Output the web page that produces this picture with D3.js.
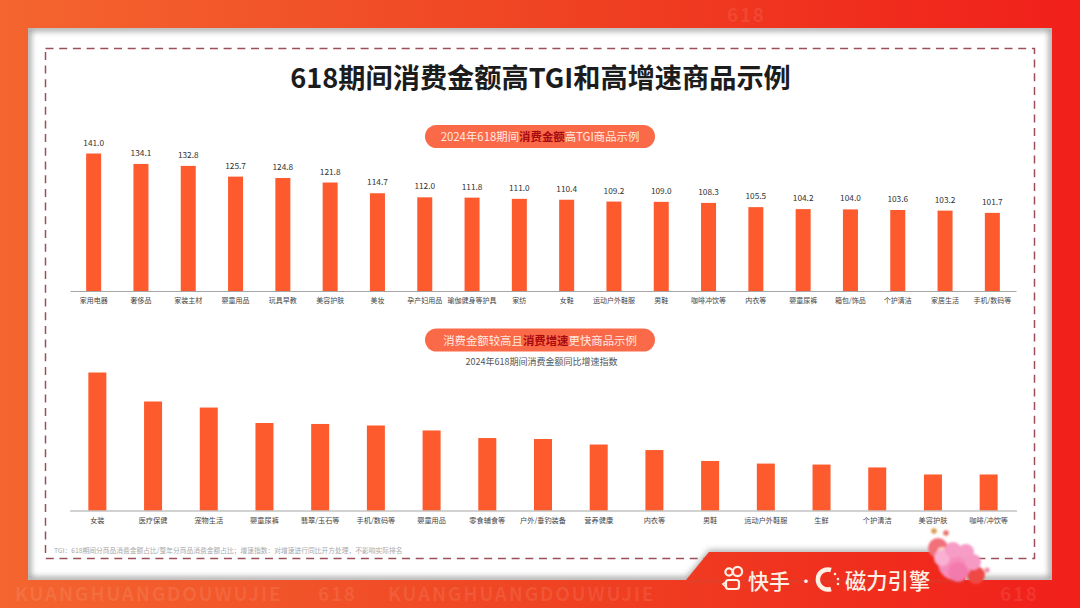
<!DOCTYPE html>
<html>
<head>
<meta charset="utf-8">
<script src="https://cdn.jsdelivr.net/npm/d3@7"></script>
<style>
  html, body { margin: 0; padding: 0; background: #fff; }
  svg { display: block; }
  text { font-family: "Noto Sans CJK SC", "Noto Sans", sans-serif; }
</style>
</head>
<body>
<svg id="chart" width="1080" height="608"></svg>
<script>
const tgiCategories = ["家用电器", "奢侈品", "家装主材", "婴童用品", "玩具早教", "美容护肤", "美妆", "孕产妇用品", "瑜伽健身等护具", "家纺",
  "女鞋", "运动户外鞋服", "男鞋", "咖啡冲饮等", "内衣等", "婴童尿裤", "箱包/饰品", "个护清洁", "家居生活", "手机/数码等"];
const tgiValues = [141.0, 134.1, 132.8, 125.7, 124.8, 121.8, 114.7, 112.0, 111.8, 111.0,
  110.4, 109.2, 109.0, 108.3, 105.5, 104.2, 104.0, 103.6, 103.2, 101.7];

const growthCategories = ["女装", "医疗保健", "宠物生活", "婴童尿裤", "翡翠/玉石等", "手机/数码等", "婴童用品", "零食辅食等", "户外/垂钓装备",
  "营养健康", "内衣等", "男鞋", "运动户外鞋服", "生鲜", "个护清洁", "美容护肤", "咖啡/冲饮等"];
// no labels in the source (tallest = 100)
const growthValues = [100, 79, 74.6, 63.4, 62.7, 61.6, 58, 52.5, 51.8, 47.8, 43.8, 35.9, 34, 33.3, 31.2, 26.1, 26.1];

const titleText = "618期间消费金额高TGI和高增速商品示例";
const subtitleText = "2024年618期间消费金额同比增速指数";
const footnoteText = "TGI：618期间分商品消费金额占比/整年分商品消费金额占比；增速指数：对增速进行同比开方处理，不影响实际排名";
const pillTop = ["2024年618期间", "消费金额", "高TGI商品示例"];
const pillBottom = ["消费金额较高且", "消费增速", "更快商品示例"];

const barColor = "#fd5a2e";
const svg = d3.select("#chart");
const defs = svg.append("defs");

const bgGrad = defs.append("linearGradient").attr("id", "bg")
  .attr("gradientUnits", "userSpaceOnUse")
  .attr("x1", 0).attr("y1", 0).attr("x2", 1080).attr("y2", 0);
bgGrad.append("stop").attr("offset", 0).attr("stop-color", "#f4652f");
bgGrad.append("stop").attr("offset", 0.5).attr("stop-color", "#ef4423");
bgGrad.append("stop").attr("offset", 1).attr("stop-color", "#f11f1a");

defs.append("filter").attr("id", "soft").attr("x", "-20%").attr("y", "-20%").attr("width", "140%").attr("height", "140%")
  .append("feGaussianBlur").attr("stdDeviation", 3);
defs.append("filter").attr("id", "soft1").attr("x", "-30%").attr("y", "-30%").attr("width", "160%").attr("height", "160%")
  .append("feGaussianBlur").attr("stdDeviation", 1.2);
defs.append("clipPath").attr("id", "panelClip")
  .append("rect").attr("x", 28).attr("y", 28).attr("width", 1024).attr("height", 552);

// background + watermark
svg.append("rect").attr("width", 1080).attr("height", 608).attr("fill", "url(#bg)");

const watermarks = [
  ["KUANGHUANGDOUWUJIE", 15, 601], ["618", 318, 601], ["KUANGHUANGDOUWUJIE", 388, 601], ["618", 1000, 601], ["618", 727, 22]
];
svg.append("g").selectAll("text").data(watermarks).enter().append("text")
  .text(d => d[0])
  .attr("x", d => d[1]).attr("y", d => d[2])
  .attr("font-size", 19).attr("font-weight", 700).attr("letter-spacing", 1.7)
  .attr("fill", "#fff").attr("fill-opacity", 0.09);

// white panel with soft inner edge
svg.append("rect").attr("x", 28).attr("y", 28).attr("width", 1024).attr("height", 552).attr("fill", "#fff");
svg.append("g").attr("clip-path", "url(#panelClip)")
  .append("rect").attr("x", 28).attr("y", 28).attr("width", 1024).attr("height", 552)
  .attr("fill", "none").attr("stroke", "#8d8d8d").attr("stroke-width", 5).attr("filter", "url(#soft)");

svg.append("rect").attr("x", 45.5).attr("y", 48.5).attr("width", 989).attr("height", 510)
  .attr("fill", "none").attr("stroke", "#9c4f58").attr("stroke-width", 1.5).attr("stroke-dasharray", "8 5.7");

svg.append("text").text(titleText)
  .attr("x", 540.5).attr("y", 88).attr("text-anchor", "middle")
  .attr("font-size", 27.2).attr("font-weight", 700).attr("fill", "#1c1c1c");

function drawPill(parts, y, fontSize) {
  svg.append("rect").attr("x", 425).attr("y", y).attr("width", 230).attr("height", 23).attr("rx", 11.5)
    .attr("fill", "#fb6a48");
  const t = svg.append("text").attr("x", 540).attr("y", y + 16).attr("text-anchor", "middle").attr("font-size", fontSize);
  t.append("tspan").text(parts[0]).attr("fill", "#ffe9e2");
  t.append("tspan").text(parts[1]).attr("fill", "#a8090f").attr("font-weight", 700);
  t.append("tspan").text(parts[2]).attr("fill", "#ffe9e2");
}
drawPill(pillTop, 125, 11.4);
drawPill(pillBottom, 328.5, 11.4);

svg.append("text").text(subtitleText)
  .attr("x", 541.5).attr("y", 365).attr("text-anchor", "middle")
  .attr("font-size", 9).attr("fill", "#555");

// top chart, axis starts at 50 in the source
const xTop = d3.scaleBand().domain(tgiCategories).range([70, 1016]);
const yTop = d3.scaleLinear().domain([50, 141]).range([291, 153.5]);
const topW = 15;
const topData = tgiCategories.map((c, i) => ({ c, v: tgiValues[i] }));

svg.append("g").selectAll("rect").data(topData).enter().append("rect")
  .attr("x", d => xTop(d.c) + xTop.bandwidth() / 2 - topW / 2)
  .attr("y", d => yTop(d.v))
  .attr("width", topW)
  .attr("height", d => yTop(50) - yTop(d.v))
  .attr("fill", barColor);

svg.append("g").selectAll("text").data(topData).enter().append("text")
  .text(d => d.v.toFixed(1))
  .attr("x", d => xTop(d.c) + xTop.bandwidth() / 2)
  .attr("y", d => yTop(d.v) - 8)
  .attr("text-anchor", "middle")
  .attr("font-size", 8.3).attr("fill", "#333");

function styleAxis(g, size) {
  g.select(".domain").attr("stroke", "#a6a6a6").attr("stroke-width", 1.2);
  g.selectAll("text")
    .attr("font-family", "\"Noto Sans CJK SC\", sans-serif")
    .attr("font-size", size).attr("fill", "#444");
}

svg.append("g").attr("transform", "translate(0,291)")
  .call(d3.axisBottom(xTop).tickSize(0).tickPadding(7))
  .call(g => styleAxis(g, 7));

// bottom chart
const xBottom = d3.scaleBand().domain(growthCategories).range([69.5, 1016.5]);
const yBottom = d3.scaleLinear().domain([0, 100]).range([510.5, 372.5]);
const bottomW = 18;
const bottomData = growthCategories.map((c, i) => ({ c, v: growthValues[i] }));

svg.append("g").selectAll("rect").data(bottomData).enter().append("rect")
  .attr("x", d => xBottom(d.c) + xBottom.bandwidth() / 2 - bottomW / 2)
  .attr("y", d => yBottom(d.v))
  .attr("width", bottomW)
  .attr("height", d => yBottom(0) - yBottom(d.v))
  .attr("fill", barColor);

svg.append("g").attr("transform", "translate(0,510.5)")
  .call(d3.axisBottom(xBottom).tickSize(0).tickPadding(7))
  .call(g => styleAxis(g, 7.2));

svg.append("text").text(footnoteText)
  .attr("x", 54).attr("y", 553)
  .attr("font-size", 6.75).attr("fill", "#a9a9a9");

// logo tab
const tabPath = "M686,580 L709,552 L965,552 L965,580 Z";
svg.append("path").attr("d", tabPath).attr("fill", "#777").attr("fill-opacity", 0.6)
  .attr("transform", "translate(0,-2)").attr("filter", "url(#soft)");
svg.append("path").attr("d", tabPath).attr("fill", "url(#bg)");

const logo = svg.append("g").attr("fill", "none").attr("stroke", "#fff0e6");
logo.append("circle").attr("cx", 729).attr("cy", 572).attr("r", 3.6).attr("stroke-width", 2.2);
logo.append("circle").attr("cx", 737.5).attr("cy", 571.5).attr("r", 4.6).attr("stroke-width", 2.2);
logo.append("rect").attr("x", 726).attr("y", 580).attr("width", 13).attr("height", 9).attr("rx", 2.5).attr("stroke-width", 2.2);
logo.append("path").attr("d", "M723,584 l3,-2 v5 z").attr("stroke-width", 1.6);
logo.append("path").attr("d", "M831,570 A10,10 0 1 0 831,589").attr("stroke-width", 4.5);

svg.append("text").text("快手").attr("x", 748).attr("y", 589)
  .attr("font-size", 21).attr("font-weight", 500).attr("fill", "#fff0e6");
svg.append("text").text("·").attr("x", 798).attr("y", 587)
  .attr("font-size", 16).attr("fill", "#fff0e6");
svg.append("text").text("磁力引擎").attr("x", 845).attr("y", 589)
  .attr("font-size", 21.3).attr("font-weight", 500).attr("fill", "#fff0e6");
svg.append("g").selectAll("circle").data([[835, 574], [838, 579], [838, 584]]).enter().append("circle")
  .attr("cx", d => d[0]).attr("cy", d => d[1]).attr("r", 1.3).attr("fill", "#fff0e6");

// blossom decoration
const blossoms = [
  [976, 575, 9, "#ee4a45"], [938, 548, 10, "#f2707a"], [942, 552, 5, "#fbd0c4"],
  [934, 531, 2.8, "#d99a4e"], [946, 533, 2.8, "#e8706a"], [987, 570, 2.6, "#f08aa8"],
  [955, 563, 17, "#f68cbc"], [942, 558, 8, "#f9b0d2"], [953, 550, 8, "#f79cc6"], [966, 552, 8, "#f79cc6"],
  [973, 562, 8, "#f69ac4"], [958, 572, 10, "#f27aac"]
];
svg.append("g").attr("filter", "url(#soft1)").selectAll("circle").data(blossoms).enter().append("circle")
  .attr("cx", d => d[0]).attr("cy", d => d[1]).attr("r", d => d[2]).attr("fill", d => d[3]);
</script>
</body>
</html>
